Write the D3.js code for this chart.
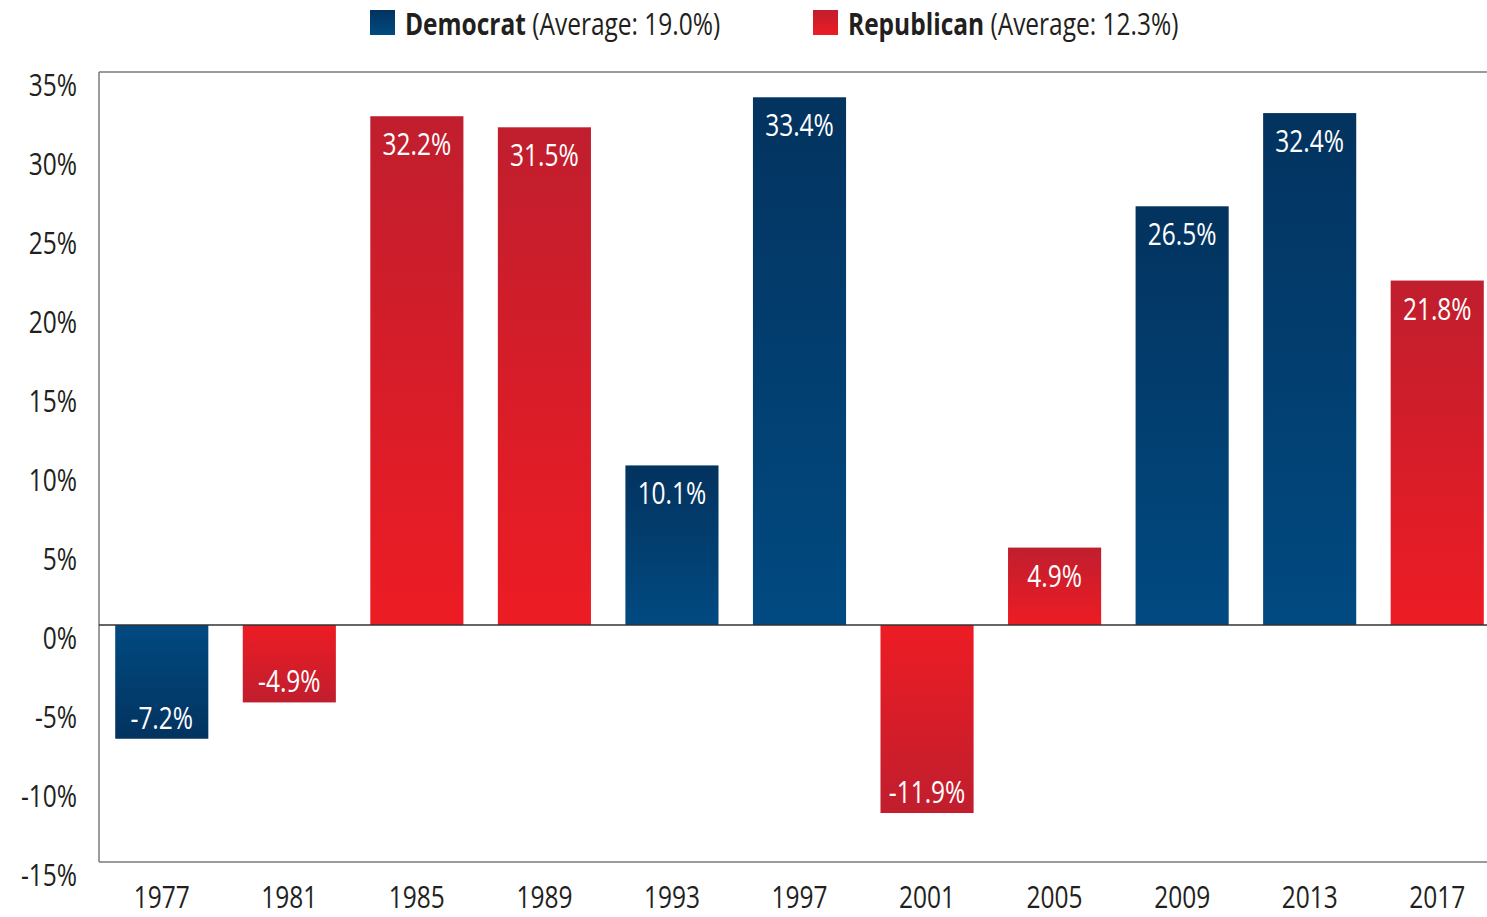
<!DOCTYPE html>
<html><head><meta charset="utf-8">
<script src="https://cdn.jsdelivr.net/npm/d3@7"></script>
<style>
body{margin:0;background:#fff;}
text{font-family:"Open Sans","Liberation Sans",sans-serif;}
</style></head>
<body><svg id="c" width="1487" height="917"></svg>
<script>
const years = ["1977","1981","1985","1989","1993","1997","2001","2005","2009","2013","2017"];
const values = [-7.2,-4.9,32.2,31.5,10.1,33.4,-11.9,4.9,26.5,32.4,21.8];
const parties = ["D","R","R","R","D","D","R","R","D","D","R"];
const yTicks = [35,30,25,20,15,10,5,0,-5,-10,-15];
const legendNames = ["Democrat","Republican"];
const legendAverages = ["(Average: 19.0%)","(Average: 12.3%)"];

const svg = d3.select("#c");
const W = 1487, H = 917;
const mLeft = 99, mTop = 72, mBottom = 862;
const SX = 0.79, FS = 31;

const defs = svg.append("defs");
function grad(id, dark, light, flip){
  const g = defs.append("linearGradient").attr("id", id)
    .attr("x1",0).attr("x2",0).attr("y1",0).attr("y2",1);
  g.append("stop").attr("offset","0%").attr("stop-color", flip ? light : dark);
  g.append("stop").attr("offset","100%").attr("stop-color", flip ? dark : light);
}
const cols = {D:["#03335f","#014a81"], R:["#c01e2e","#ed1c24"]};
grad("Dpos", cols.D[0], cols.D[1], false);
grad("Dneg", cols.D[0], cols.D[1], true);
grad("Rpos", cols.R[0], cols.R[1], false);
grad("Rneg", cols.R[0], cols.R[1], true);

const x = d3.scaleBand().domain(years).range([98, 1501]).paddingInner(0.27).paddingOuter(0.135);
const y = d3.scaleLinear().domain([-15, 35]).range([mBottom, mTop]);

// frame
svg.append("line").attr("x1",mLeft).attr("x2",mLeft).attr("y1",mTop).attr("y2",mBottom).attr("stroke","#7a7a7a").attr("stroke-width",1.5);
svg.append("line").attr("x1",mLeft).attr("x2",W).attr("y1",mTop).attr("y2",mTop).attr("stroke","#7a7a7a").attr("stroke-width",1.5);
svg.append("line").attr("x1",mLeft).attr("x2",W).attr("y1",mBottom).attr("y2",mBottom).attr("stroke","#7a7a7a").attr("stroke-width",1.5);

function tr(px, py){ return `translate(${px},${py}) scale(${SX},1)`; }

// y labels
svg.append("g").selectAll("text").data(yTicks).join("text")
  .attr("transform", d => tr(77, y(d) + 24))
  .attr("text-anchor","end").attr("font-size",FS).attr("fill","#231f20")
  .text(d => d + "%");

// x labels
svg.append("g").selectAll("text").data(years).join("text")
  .attr("transform", d => tr(x(d) + x.bandwidth()/2, 908))
  .attr("text-anchor","middle").attr("font-size",FS).attr("fill","#231f20")
  .text(d => d);

// bars
const data = years.map((yr,i)=>({yr, v:values[i], p:parties[i]}));
svg.append("g").selectAll("rect").data(data).join("rect")
  .attr("x", d => x(d.yr)).attr("width", x.bandwidth())
  .attr("y", d => y(Math.max(0,d.v))).attr("height", d => Math.abs(y(d.v)-y(0)))
  .attr("fill", d => `url(#${d.p}${d.v>=0?"pos":"neg"})`);

// zero line
svg.append("line").attr("x1",mLeft).attr("x2",W).attr("y1",y(0)).attr("y2",y(0)).attr("stroke","#333").attr("stroke-width",1.5);

// value labels
svg.append("g").selectAll("text").data(data).join("text")
  .attr("transform", d => tr(x(d.yr) + x.bandwidth()/2, d.v >= 0 ? y(d.v) + 39 : y(d.v) - 10))
  .attr("text-anchor","middle").attr("font-size",FS).attr("fill","#fff")
  .text(d => d.v.toFixed(1) + "%");

// legend
const lg = svg.append("g");
const lx = [370, 813];
legendNames.forEach((n,i)=>{
  lg.append("rect").attr("x",lx[i]).attr("y",10).attr("width",25).attr("height",25)
    .attr("fill", `url(#${i===0?"D":"R"}pos)`);
  const t = lg.append("text").attr("transform", tr(lx[i]+35, 35))
    .attr("font-size",FS).attr("fill","#231f20");
  t.append("tspan").attr("font-weight","bold").text(n);
  t.append("tspan").text(" " + legendAverages[i]);
});
</script></body></html>
